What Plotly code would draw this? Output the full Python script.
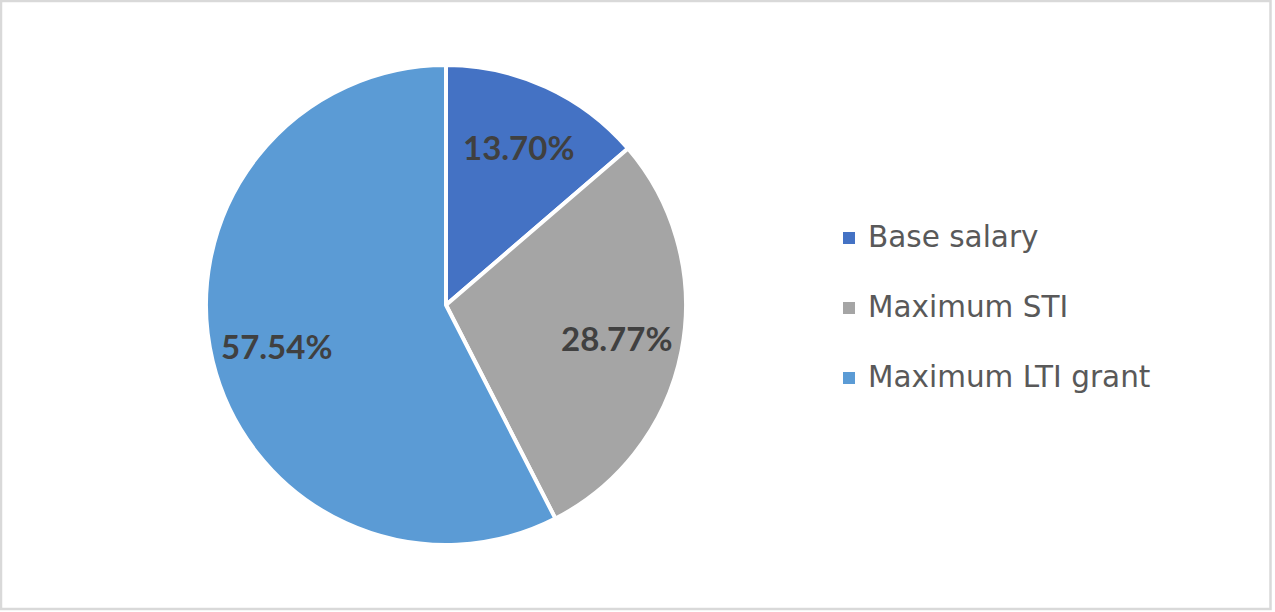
import math
import plotly.graph_objects as go

labels = ["Base salary", "Maximum STI", "Maximum LTI grant"]
values = [13.70, 28.77, 57.54]
colors = ["#4472C4", "#A5A5A5", "#5B9BD5"]

W, H = 1275, 612
cx, cy, R = 446, 305, 240

fig = go.Figure()
fig.add_trace(go.Pie(
    labels=labels,
    values=values,
    sort=False,
    direction="clockwise",
    rotation=0,
    marker=dict(colors=colors, line=dict(color="white", width=4)),
    textinfo="none",
    domain=dict(x=[(cx - R) / W, (cx + R) / W], y=[(H - cy - R) / H, (H - cy + R) / H]),
    showlegend=False,
    hoverinfo="label+value",
))

# data labels placed along each slice's bisector
total = sum(values)
cum = 0.0
for v in values:
    mid = (cum + v / 2) / total * 2 * math.pi
    cum += v
    r = 0.725 * R
    px = cx + r * math.sin(mid)
    py = cy - r * math.cos(mid)
    fig.add_annotation(xref="paper", yref="paper", x=px / W, y=(H - py) / H,
                       xanchor="center", yanchor="middle", showarrow=False,
                       text=f"<b>{v:.2f}%</b>",
                       font=dict(family="Lato", size=33, color="#404040"))

# legend drawn alongside the pie
lx, ly0, dy, sq = 849, 238, 70, 12
for i, (lab, col) in enumerate(zip(labels, colors)):
    yc = ly0 + i * dy
    fig.add_shape(type="rect", xref="paper", yref="paper",
                  x0=(lx - sq / 2) / W, x1=(lx + sq / 2) / W,
                  y0=(H - yc - sq / 2) / H, y1=(H - yc + sq / 2) / H,
                  fillcolor=col, line=dict(width=0))
    fig.add_annotation(xref="paper", yref="paper", x=866 / W, y=(H - yc + 1) / H,
                       xanchor="left", yanchor="middle", showarrow=False,
                       text=lab, font=dict(family="DejaVu Sans", size=29.5, color="#595959"))

# chart border
fig.add_shape(type="rect", xref="paper", yref="paper", x0=1 / W, x1=1270.5 / W,
              y0=(H - 609) / H, y1=(H - 1) / H, line=dict(color="#D9D9D9", width=2.5))

fig.update_layout(width=W, height=H, margin=dict(l=0, r=0, t=0, b=0),
                  paper_bgcolor="white", plot_bgcolor="white")
fig.write_html("out.html", config={"displayModeBar": False},
               post_script="document.body.style.margin='0';")
